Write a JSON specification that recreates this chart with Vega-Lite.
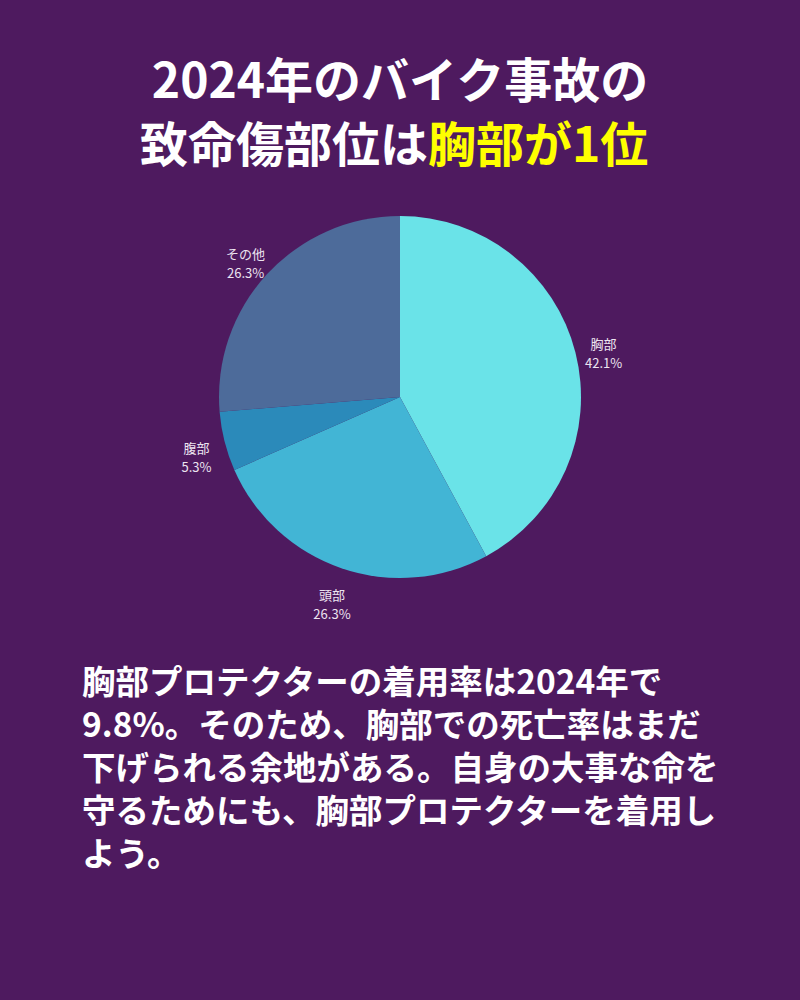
{
  "$schema": "https://vega.github.io/schema/vega-lite/v6.json",
  "description": "2024年のバイク事故の致命傷部位 (pie) with caption.",
  "background": "#4e1a5f",
  "padding": {"top": 52, "bottom": 133, "left": 0, "right": 0},
  "config": {
    "view": {"stroke": null},
    "text": {"font": "Noto Sans CJK JP"}
  },
  "datasets": {
    "injury": [
      {"part": "胸部", "pct": 42.1, "rank": 1},
      {"part": "頭部", "pct": 26.3, "rank": 2},
      {"part": "腹部", "pct": 5.3, "rank": 3},
      {"part": "その他", "pct": 26.3, "rank": 4}
    ],
    "caption": [
      {"line": 1, "t": "胸部プロテクターの着用率は2024年で"},
      {"line": 2, "t": "9.8%。そのため、胸部での死亡率はまだ"},
      {"line": 3, "t": "下げられる余地がある。自身の大事な命を"},
      {"line": 4, "t": "守るためにも、胸部プロテクターを着用し"},
      {"line": 5, "t": "よう。"}
    ]
  },
  "vconcat": [
    {
      "width": 800,
      "height": 64,
      "data": {"values": [{"t": "2024年のバイク事故の"}]},
      "mark": {"type": "text", "fontSize": 48, "fontWeight": "bold", "color": "#ffffff", "baseline": "middle"},
      "encoding": {"text": {"field": "t"}}
    },
    {
      "width": 800,
      "height": 64,
      "layer": [
        {
          "data": {"values": [{"t": "致命傷部位は"}]},
          "mark": {"type": "text", "align": "right", "dx": 28, "fontSize": 48, "fontWeight": "bold", "color": "#ffffff", "baseline": "middle"},
          "encoding": {"text": {"field": "t"}}
        },
        {
          "data": {"values": [{"t": "胸部が1位"}]},
          "mark": {"type": "text", "align": "left", "dx": 28, "fontSize": 48, "fontWeight": "bold", "color": "#ffff00", "baseline": "middle"},
          "encoding": {"text": {"field": "t"}}
        }
      ]
    },
    {
      "width": 793,
      "height": 434,
      "data": {"name": "injury"},
      "transform": [
        {"calculate": "[datum.part, format(datum.pct, '.1f') + '%']", "as": "label"}
      ],
      "encoding": {
        "theta": {"field": "pct", "type": "quantitative", "stack": true},
        "order": {"field": "rank", "type": "quantitative"}
      },
      "layer": [
        {
          "mark": {"type": "arc", "outerRadius": 181},
          "encoding": {
            "color": {
              "field": "part",
              "type": "nominal",
              "legend": null,
              "scale": {
                "domain": ["胸部", "頭部", "腹部", "その他"],
                "range": ["#6ae3e8", "#42b5d5", "#2b8aba", "#4d6b9a"]
              }
            }
          }
        },
        {
          "mark": {"type": "text", "radius": 210, "fontSize": 13, "lineHeight": 19, "color": "#ece4f0", "baseline": "middle"},
          "encoding": {"text": {"field": "label"}}
        }
      ]
    },
    {
      "width": 1,
      "height": 253,
      "data": {"name": "caption"},
      "mark": {"type": "text", "align": "left", "baseline": "middle", "fontSize": 33.5, "fontWeight": "bold", "color": "#ffffff"},
      "encoding": {
        "y": {
          "field": "line",
          "type": "ordinal",
          "axis": null,
          "scale": {"type": "point", "domain": [0, 1, 2, 3, 4, 5], "padding": 0.442}
        },
        "text": {"field": "t"}
      }
    }
  ],
  "spacing": 0,
  "center": true
}
